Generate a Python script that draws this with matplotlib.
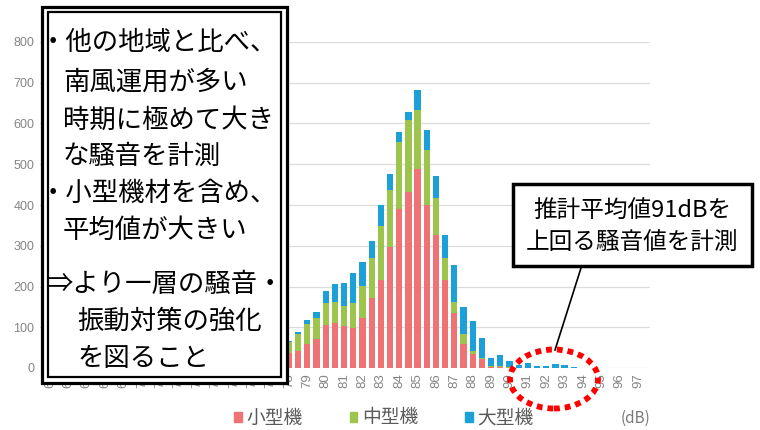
import numpy as np
import matplotlib
matplotlib.use("Agg")
import matplotlib.pyplot as plt
from matplotlib.patches import Rectangle, Ellipse, Patch
from matplotlib.lines import Line2D

plt.rcParams['font.family'] = ['Noto Sans CJK JP', 'DejaVu Sans']

# 0.5 dB bins, 65.0 .. 97.0
db_bins = [65 + 0.5 * i for i in range(65)]
small = [0, 0, 0, 1, 1, 1, 2, 2, 3, 3, 4, 5, 6, 7, 8, 9, 10, 12, 14, 16, 18, 20, 23, 26, 29, 32,
         36, 42, 60, 72, 105, 111, 103, 97, 122, 171, 217, 297, 391, 432, 489, 400, 326, 216,
         134, 60, 35, 21, 3, 3, 1, 0, 0, 0, 0, 0, 0, 0, 0, 0, 0, 0, 0, 0, 0]
medium = [0, 0, 1, 1, 1, 2, 2, 3, 3, 4, 4, 5, 6, 6, 7, 8, 9, 10, 11, 12, 14, 16, 18, 20, 22, 25,
          27, 42, 48, 50, 55, 52, 48, 63, 80, 100, 132, 140, 163, 176, 145, 134, 90, 53,
          29, 23, 6, 4, 1, 1, 2, 0, 0, 0, 0, 0, 0, 0, 0, 0, 0, 0, 0, 0, 0]
large = [0, 0, 0, 0, 0, 0, 1, 1, 1, 1, 1, 1, 1, 1, 2, 2, 2, 2, 2, 2, 3, 3, 3, 3, 3, 4,
         4, 5, 10, 16, 30, 42, 58, 74, 59, 40, 52, 40, 25, 20, 49, 51, 55, 57,
         89, 67, 75, 49, 20, 28, 13, 8, 12, 6, 5, 9, 7, 2, 0, 0, 0, 0, 0, 0, 0]
series_names = ['小型機', '中型機', '大型機']
series_colors = ['#EF7275', '#9DC44D', '#1BA0D8']
x_ticks = list(range(65, 98))
y_ticks = list(range(0, 900, 100))

box_lines = [
    ('・他の地域と比べ、', 40, 43),
    ('南風運用が多い', 63, 82),
    ('時期に極めて大き', 63, 120),
    ('な騒音を計測', 63, 156),
    ('・小型機材を含め、', 40, 193),
    ('平均値が大きい', 63, 230),
    ('⇒より一層の騒音・', 47, 284),
    ('振動対策の強化', 77, 321),
    ('を図ること', 77, 358),
]
callout_lines = ['推計平均値91dBを', '上回る騒音値を計測']

W, H = 760, 430
def fx(x):
    return x / W
def fy(y):
    return 1 - y / H

fig = plt.figure(figsize=(7.6, 4.3), dpi=100)
ax = fig.add_axes([fx(40), fy(368), (650 - 40) / W, (368 - 42) / H])

x = np.array(db_bins)
s = np.array(small)
m = np.array(medium)
l = np.array(large)
ax.bar(x, s, width=0.34, color=series_colors[0], zorder=2)
ax.bar(x, m, width=0.34, bottom=s, color=series_colors[1], zorder=2)
ax.bar(x, l, width=0.34, bottom=s + m, color=series_colors[2], zorder=2)

ax.set_xlim(64.45, 97.65)
ax.set_ylim(0, 800)
ax.set_yticks(y_ticks)
ax.set_xticks(x_ticks)
ax.set_xticklabels([str(t) for t in x_ticks], rotation=90, fontsize=9.5,
                   color='#858585', family=['Liberation Sans', 'DejaVu Sans'])
ax.set_yticklabels([str(t) for t in y_ticks], fontsize=9, color='#858585',
                   family=['Liberation Sans', 'DejaVu Sans'])
ax.tick_params(length=0)
ax.tick_params(axis='y', pad=4)
ax.tick_params(axis='x', pad=4)
ax.grid(axis='y', color='#DCDCDC', lw=0.9, zorder=0)
for sp in ax.spines.values():
    sp.set_visible(False)

handles = [Patch(color=c) for c in series_colors]
fig.legend(handles, series_names, loc='center', bbox_to_anchor=(fx(384), fy(418)),
           ncol=3, frameon=False, fontsize=13.5, handlelength=0.4, handleheight=0.4,
           handletextpad=0.25, columnspacing=2.5, labelcolor='#595959')
fig.text(fx(621), fy(418), '(dB)', fontsize=11, color='#7A7A7A', va='center')

# left comment box (double border)
fig.add_artist(Rectangle((fx(41.5), fy(382.5)), 245 / W, 376 / H, transform=fig.transFigure,
                         facecolor='white', edgecolor='black', lw=2.3, zorder=5))
fig.add_artist(Rectangle((fx(47.5), fy(377)), 233.5 / W, 365 / H, transform=fig.transFigure,
                         facecolor='none', edgecolor='black', lw=1.6, zorder=6))
for txt, px, py in box_lines:
    fig.text(fx(px), fy(py), txt, fontsize=19, ha='left', va='center', zorder=7)

# callout box
fig.add_artist(Line2D([fx(581), fx(555)], [fy(268), fy(350)], transform=fig.transFigure,
                      color='black', lw=1.2, zorder=5))
fig.add_artist(Rectangle((fx(513), fy(266)), 239 / W, 82 / H, transform=fig.transFigure,
                         facecolor='white', edgecolor='black', lw=2.5, zorder=5))
fig.text(fx(632), fy(211), callout_lines[0], fontsize=17, ha='center', va='center', zorder=7)
fig.text(fx(632), fy(243), callout_lines[1], fontsize=17, ha='center', va='center', zorder=7)

# red dotted ellipse
fig.add_artist(Ellipse((fx(554), fy(379)), 88 / W, 59 / H, transform=fig.transFigure,
                       facecolor='none', edgecolor='#FF0000', lw=4.2,
                       linestyle=(0, (1.0, 0.85)), zorder=8))

fig.savefig('out.png', dpi=100)
